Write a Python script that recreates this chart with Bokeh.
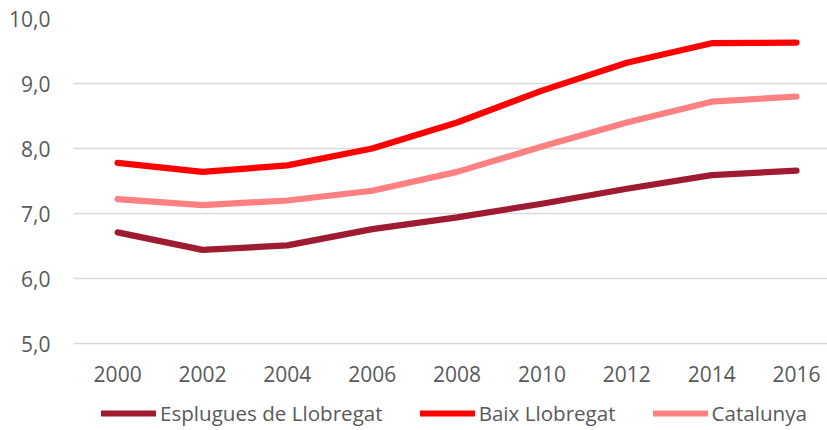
from bokeh.plotting import figure
from bokeh.models import Range1d, FixedTicker, Legend, LegendItem, ColumnDataSource
from bokeh.core.properties import value
from bokeh.embed import file_html
from bokeh.resources import INLINE

years = [2000, 2002, 2004, 2006, 2008, 2010, 2012, 2014, 2016]
year_labels = [str(y) for y in years]
esplugues = [6.71, 6.44, 6.51, 6.76, 6.94, 7.15, 7.38, 7.59, 7.66]
baix = [7.78, 7.64, 7.74, 8.00, 8.40, 8.89, 9.32, 9.62, 9.63]
catalunya = [7.22, 7.13, 7.20, 7.35, 7.64, 8.03, 8.40, 8.72, 8.80]
y_ticks = [5, 6, 7, 8, 9, 10]
y_tick_labels = ["5,0", "6,0", "7,0", "8,0", "9,0", "10,0"]
series_names = ["Esplugues de Llobregat", "Baix Llobregat", "Catalunya"]
colors = ["#9E1B32", "#FF0000", "#FF8080"]

FONT = "Open Sans"
TXT = "#595959"

Y_MIN = 5.0
Y_MAX = 10.0
# frame extends below the value axis to host the category labels and the legend
Y_FRAME_MIN = Y_MAX - (Y_MAX - Y_MIN) * 412 / 325
X_LABEL_Y = Y_MIN - (Y_MAX - Y_MIN) * 30 / 325

p = figure(width=827, height=430, output_backend="svg", toolbar_location=None,
           x_range=Range1d(1998.96, 2016.73), y_range=Range1d(Y_FRAME_MIN, Y_MAX),
           min_border_left=73, min_border_right=0, min_border_top=18,
           min_border_bottom=0)
p.outline_line_color = None
p.background_fill_color = "white"

renderers = []
for ys, c in zip([esplugues, baix, catalunya], colors):
    r = p.line(years, ys, line_color=c, line_width=6.2, line_cap="round", line_join="round")
    renderers.append(r)

# category (year) labels
src = ColumnDataSource(dict(x=years, y=[X_LABEL_Y] * len(years), t=year_labels))
p.text(x="x", y="y", text="t", source=src, text_align="center", text_baseline="middle",
       text_font=value(FONT), text_font_size="21px", text_color=TXT)

p.xgrid.grid_line_color = None
p.xaxis.visible = False
p.ygrid.grid_line_color = "#D9D9D9"
p.ygrid.grid_line_width = 1.5

p.yaxis.ticker = FixedTicker(ticks=y_ticks)
p.yaxis.major_label_overrides = {t: l for t, l in zip(y_ticks, y_tick_labels)}
p.yaxis.axis_line_color = None
p.yaxis.major_tick_line_color = None
p.yaxis.minor_tick_line_color = None
p.yaxis.major_label_text_font = FONT
p.yaxis.major_label_text_font_size = "21px"
p.yaxis.major_label_text_color = TXT
p.yaxis.major_label_standoff = 17

legend = Legend(items=[LegendItem(label=n, renderers=[r]) for n, r in zip(series_names, renderers)],
                orientation="horizontal", location=(28, 3),
                border_line_color=None, background_fill_alpha=0,
                glyph_width=55, glyph_height=20, label_height=20, label_standoff=4, spacing=37,
                padding=0, margin=0,
                label_text_font=FONT, label_text_font_size="20.6px", label_text_color=TXT)
p.add_layout(legend, "center")

open("out.html", "w").write(file_html(p, INLINE))
